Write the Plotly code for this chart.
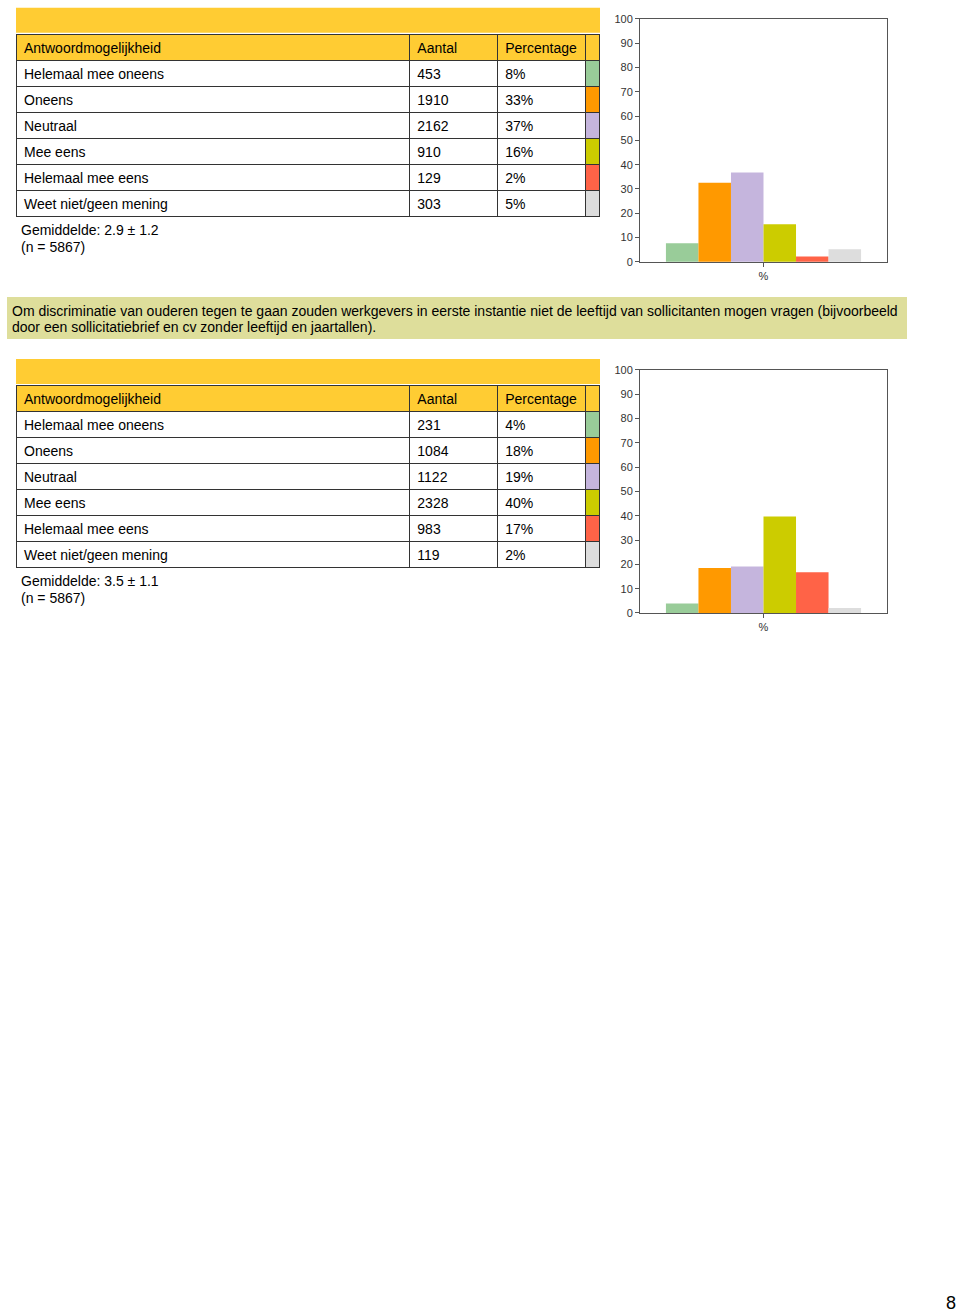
import plotly.graph_objects as go

W, H = 960, 1318

# ---------------- data ----------------
options = ["Helemaal mee oneens", "Oneens", "Neutraal", "Mee eens",
           "Helemaal mee eens", "Weet niet/geen mening"]
swatch_colors = ["#99CC99", "#FF9900", "#C5B5DD", "#CCCC00", "#FF6347", "#DDDDDD"]
headers = ["Antwoordmogelijkheid", "Aantal", "Percentage", ""]
category = ["%"]
y_ticks = [0, 10, 20, 30, 40, 50, 60, 70, 80, 90, 100]

q1_counts = [453, 1910, 2162, 910, 129, 303]
q1_pct_labels = ["8%", "33%", "37%", "16%", "2%", "5%"]
q1_bar = [7.7, 32.6, 36.8, 15.5, 2.2, 5.2]
q1_mean = "Gemiddelde: 2.9 ± 1.2"
q1_n = "(n = 5867)"

q2_counts = [231, 1084, 1122, 2328, 983, 119]
q2_pct_labels = ["4%", "18%", "19%", "40%", "17%", "2%"]
q2_bar = [3.9, 18.5, 19.1, 39.7, 16.8, 2.0]
q2_mean = "Gemiddelde: 3.5 ± 1.1"
q2_n = "(n = 5867)"

statement_lines = [
    "Om discriminatie van ouderen tegen te gaan zouden werkgevers in eerste instantie niet de leeftijd van sollicitanten mogen vragen (bijvoorbeeld",
    "door een sollicitatiebrief en cv zonder leeftijd en jaartallen).",
]
page_number = "8"

# ---------------- helpers ----------------
# vertical pixel positions are given in target-page pixels and converted to
# figure pixels (the rendered page shows the figure with a small vertical
# offset/scale, compensated here)
Y_OFF, Y_SCALE = 5.2, 0.9906

def xf(px):
    return px / W

def yf(py):
    return 1 - ((py - Y_OFF) / Y_SCALE) / H

FONT = "Liberation Sans, Arial, Helvetica, sans-serif"
YELLOW = "#FFCC33"
LINE = "#333333"

fig = go.Figure()
shapes = []
annotations = []

blocks = [
    (0, q1_counts, q1_pct_labels, q1_bar, q1_mean, q1_n),
    (351, q2_counts, q2_pct_labels, q2_bar, q2_mean, q2_n),
]

for bi, (off, counts, pct_labels, bars, mean_txt, n_txt) in enumerate(blocks):
    # banner above table
    shapes.append(dict(type="rect", xref="paper", yref="paper",
                       x0=xf(16), x1=xf(600), y0=yf(32 + off), y1=yf(7 + off),
                       fillcolor=YELLOW, line=dict(width=0), layer="below"))
    # table
    fig.add_trace(go.Table(
        domain=dict(x=[xf(16), xf(600)], y=[yf(34 + off + 200), yf(34 + off)]),
        columnwidth=[394, 88, 88, 15],
        header=dict(values=headers, fill_color=YELLOW, height=26,
                    align="left", line=dict(color=LINE, width=1),
                    font=dict(family=FONT, size=14, color="#000000")),
        cells=dict(values=[options, [str(c) for c in counts], pct_labels,
                           ["" for _ in options]],
                   fill_color=[["#FFFFFF"] * 6, ["#FFFFFF"] * 6, ["#FFFFFF"] * 6,
                               swatch_colors],
                   height=26, align="left", line=dict(color=LINE, width=1),
                   font=dict(family=FONT, size=14, color="#000000")),
    ))
    # stats text
    annotations.append(dict(text=mean_txt, xref="paper", yref="paper",
                            x=xf(19), y=yf(229 + off), xanchor="left", yanchor="middle",
                            showarrow=False, font=dict(family=FONT, size=14, color="#000")))
    annotations.append(dict(text=n_txt, xref="paper", yref="paper",
                            x=xf(19), y=yf(246 + off), xanchor="left", yanchor="middle",
                            showarrow=False, font=dict(family=FONT, size=14, color="#000")))
    # bar chart
    ax = "" if bi == 0 else str(bi + 1)
    for i in range(len(options)):
        fig.add_trace(go.Bar(x=category, y=[bars[i]], marker_color=swatch_colors[i],
                             marker_line_width=0, showlegend=False,
                             xaxis="x" + ax, yaxis="y" + ax, hoverinfo="skip"))
    axis_common = dict(showline=True, mirror=True, linecolor="#555555", linewidth=1,
                       ticks="outside", ticklen=4, tickcolor="#555555",
                       tickfont=dict(family=FONT, size=11, color="#333333"),
                       showgrid=False, zeroline=False, fixedrange=True)
    fig.layout["xaxis" + ax] = dict(domain=[xf(640), xf(887)], type="category",
                                    range=[-0.5, 0.5], anchor="y" + ax, **axis_common)
    fig.layout["yaxis" + ax] = dict(domain=[yf(261 + off), yf(18 + off)], range=[0, 100],
                                    tickvals=y_ticks, anchor="x" + ax, **axis_common)

# statement box
shapes.append(dict(type="rect", xref="paper", yref="paper",
                   x0=xf(7), x1=xf(907), y0=yf(338), y1=yf(296),
                   fillcolor="#DEDE9B", line=dict(width=0), layer="below"))
for k, line in enumerate(statement_lines):
    annotations.append(dict(text=line, xref="paper", yref="paper",
                            x=xf(10), y=yf(310 + 16 * k), xanchor="left", yanchor="middle",
                            showarrow=False, font=dict(family=FONT, size=14, color="#000")))

annotations.append(dict(text=page_number, xref="paper", yref="paper",
                        x=xf(958), y=yf(1302), xanchor="right", yanchor="middle",
                        showarrow=False, font=dict(family=FONT, size=18, color="#000")))

fig.update_layout(width=W, height=H, margin=dict(l=0, r=0, t=0, b=0),
                  paper_bgcolor="white", plot_bgcolor="white",
                  barmode="group", bargap=0.21, bargroupgap=0,
                  shapes=shapes, annotations=annotations, showlegend=False)

page_css = (
    "document.documentElement.style.margin='0';"
    "document.documentElement.style.overflow='hidden';"
    "document.body.style.margin='0';"
    "document.body.style.overflow='hidden';"
    "var gd=document.getElementsByClassName('plotly-graph-div')[0];"
    "gd.style.position='absolute';gd.style.left='0px';gd.style.top='0px';"
)
fig.write_html("out.html", config={"displayModeBar": False}, post_script=page_css)
